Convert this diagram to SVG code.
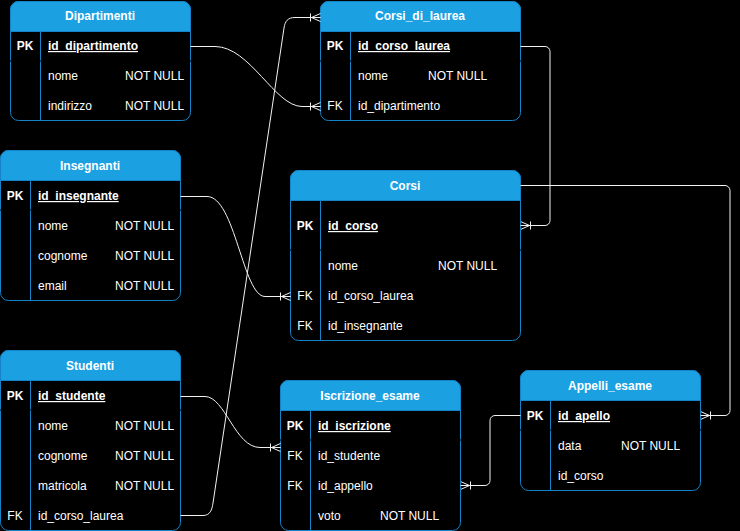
<svg xmlns="http://www.w3.org/2000/svg" width="740" height="531" viewBox="0 0 740 531">
<style>
.box{fill:#000;stroke:#1583C8;stroke-width:1}
.hdr{fill:#1BA1E2;stroke:#1583C8;stroke-width:1}
.div{stroke:#1583C8;stroke-width:1}
.cut{stroke:#000;stroke-width:1}
text{font-family:"Liberation Sans",Arial,Helvetica,sans-serif;font-size:12px;fill:#fff}
.t{font-weight:bold;text-anchor:middle}
.k{font-weight:bold;text-anchor:middle}
.f{text-anchor:middle}
.pk{font-weight:bold;text-decoration:underline}
.e{fill:none;stroke:#f2f2f2;stroke-width:1}
</style>
<defs>
<marker id="many" viewBox="0 -5 12 10" markerWidth="12" markerHeight="10" markerUnits="userSpaceOnUse" refX="12" refY="0" orient="auto">
<path d="M2,-4V4M3,0L12,-4M3,0L12,4M0,0H12" fill="none" stroke="#f2f2f2" stroke-width="1"/>
</marker>
</defs>
<rect x="0" y="0" width="740" height="531" fill="#000"/>

<g id="Dipartimenti">
<rect class="box" x="10.5" y="1.5" width="180" height="119" rx="8"/>
<path class="hdr" d="M10.5,31.5V9.5A8,8 0 0 1 18.5,1.5H182.5A8,8 0 0 1 190.5,9.5V31.5Z"/>
<line class="div" x1="40.5" y1="31.5" x2="40.5" y2="120.5"/>
<line class="cut" x1="9" y1="61" x2="192" y2="61"/>
<text class="t" x="100" y="20">Dipartimenti</text>
<text class="k" x="25" y="50">PK</text>
<text class="pk" x="48" y="50">id_dipartimento</text>
<text x="48" y="80">nome</text><text x="125" y="80">NOT NULL</text>
<text x="48" y="110">indirizzo</text><text x="125" y="110">NOT NULL</text>
</g>

<g id="Corsi_di_laurea">
<rect class="box" x="320.5" y="1.5" width="200" height="119" rx="8"/>
<path class="hdr" d="M320.5,31.5V9.5A8,8 0 0 1 328.5,1.5H512.5A8,8 0 0 1 520.5,9.5V31.5Z"/>
<line class="div" x1="350.5" y1="31.5" x2="350.5" y2="120.5"/>
<line class="cut" x1="319" y1="61" x2="522" y2="61"/>
<text class="t" x="420" y="20">Corsi_di_laurea</text>
<text class="k" x="335" y="50">PK</text>
<text class="pk" x="358" y="50">id_corso_laurea</text>
<text x="358" y="80">nome</text><text x="428" y="80">NOT NULL</text>
<text class="f" x="335" y="110">FK</text>
<text x="358" y="110">id_dipartimento</text>
</g>

<g id="Insegnanti">
<rect class="box" x="0.5" y="150.5" width="180" height="150" rx="8"/>
<path class="hdr" d="M0.5,180.5V158.5A8,8 0 0 1 8.5,150.5H172.5A8,8 0 0 1 180.5,158.5V180.5Z"/>
<line class="div" x1="30.5" y1="180.5" x2="30.5" y2="300.5"/>
<line class="cut" x1="0" y1="210" x2="182" y2="210"/>
<text class="t" x="90" y="170">Insegnanti</text>
<text class="k" x="15" y="200">PK</text>
<text class="pk" x="38" y="200">id_insegnante</text>
<text x="38" y="230">nome</text><text x="115" y="230">NOT NULL</text>
<text x="38" y="260">cognome</text><text x="115" y="260">NOT NULL</text>
<text x="38" y="290">email</text><text x="115" y="290">NOT NULL</text>
</g>

<g id="Corsi">
<rect class="box" x="290.5" y="170.5" width="230" height="170" rx="8"/>
<path class="hdr" d="M290.5,200.5V178.5A8,8 0 0 1 298.5,170.5H512.5A8,8 0 0 1 520.5,178.5V200.5Z"/>
<line class="div" x1="320.5" y1="200.5" x2="320.5" y2="340.5"/>
<line class="cut" x1="289" y1="250" x2="522" y2="250"/>
<text class="t" x="405" y="190">Corsi</text>
<text class="k" x="305" y="230">PK</text>
<text class="pk" x="328" y="230">id_corso</text>
<text x="328" y="270">nome</text><text x="438" y="270">NOT NULL</text>
<text class="f" x="305" y="300">FK</text>
<text x="328" y="300">id_corso_laurea</text>
<text class="f" x="305" y="330">FK</text>
<text x="328" y="330">id_insegnante</text>
</g>

<g id="Studenti">
<rect class="box" x="0.5" y="350.5" width="180" height="180" rx="8"/>
<path class="hdr" d="M0.5,380.5V358.5A8,8 0 0 1 8.5,350.5H172.5A8,8 0 0 1 180.5,358.5V380.5Z"/>
<line class="div" x1="30.5" y1="380.5" x2="30.5" y2="530.5"/>
<line class="cut" x1="0" y1="410" x2="182" y2="410"/>
<text class="t" x="90" y="370">Studenti</text>
<text class="k" x="15" y="400">PK</text>
<text class="pk" x="38" y="400">id_studente</text>
<text x="38" y="430">nome</text><text x="115" y="430">NOT NULL</text>
<text x="38" y="460">cognome</text><text x="115" y="460">NOT NULL</text>
<text x="38" y="490">matricola</text><text x="115" y="490">NOT NULL</text>
<text class="f" x="15" y="520">FK</text>
<text x="38" y="520">id_corso_laurea</text>
</g>

<g id="Iscrizione_esame">
<rect class="box" x="280.5" y="380.5" width="180" height="150" rx="8"/>
<path class="hdr" d="M280.5,410.5V388.5A8,8 0 0 1 288.5,380.5H452.5A8,8 0 0 1 460.5,388.5V410.5Z"/>
<line class="div" x1="310.5" y1="410.5" x2="310.5" y2="530.5"/>
<line class="cut" x1="279" y1="440" x2="462" y2="440"/>
<text class="t" x="370" y="400">Iscrizione_esame</text>
<text class="k" x="295" y="430">PK</text>
<text class="pk" x="318" y="430">id_iscrizione</text>
<text class="f" x="295" y="460">FK</text>
<text x="318" y="460">id_studente</text>
<text class="f" x="295" y="490">FK</text>
<text x="318" y="490">id_appello</text>
<text x="318" y="520">voto</text><text x="380" y="520">NOT NULL</text>
</g>

<g id="Appelli_esame">
<rect class="box" x="520.5" y="370.5" width="180" height="120" rx="8"/>
<path class="hdr" d="M520.5,400.5V378.5A8,8 0 0 1 528.5,370.5H692.5A8,8 0 0 1 700.5,378.5V400.5Z"/>
<line class="div" x1="550.5" y1="400.5" x2="550.5" y2="490.5"/>
<line class="cut" x1="519" y1="430" x2="702" y2="430"/>
<text class="t" x="610" y="390">Appelli_esame</text>
<text class="k" x="535" y="420">PK</text>
<text class="pk" x="558" y="420">id_apello</text>
<text x="558" y="450">data</text><text x="621" y="450">NOT NULL</text>
<text x="558" y="480">id_corso</text>
</g>

<g id="connectors">
<path class="e" marker-end="url(#many)" d="M190.5,46.5H215C250,46.5 275,106.5 302,106.5H320.5"/>
<path class="e" marker-end="url(#many)" d="M180.5,515.5H203C210,515.5 212,510 213,503L284,28C285,21 288,17.5 295,17.5H320.5"/>
<path class="e" marker-end="url(#many)" d="M180.5,196.5H207C235,196.5 243,296.5 265,296.5H290.5"/>
<path class="e" marker-end="url(#many)" d="M520.5,46.5H545A5,5 0 0 1 550,51.5V220.5A5,5 0 0 1 545,225.5H520.5"/>
<path class="e" marker-end="url(#many)" d="M520.5,185.5H725A5,5 0 0 1 730,190.5V410.5A5,5 0 0 1 725,415.5H700.5"/>
<path class="e" marker-end="url(#many)" d="M180.5,396.5H205C225,396.5 235,447.5 260,447.5H280.5"/>
<path class="e" marker-end="url(#many)" d="M520.5,415.5H495A5,5 0 0 0 490,420.5V480.5A5,5 0 0 1 485,485.5H460.5"/>
</g>
</svg>
